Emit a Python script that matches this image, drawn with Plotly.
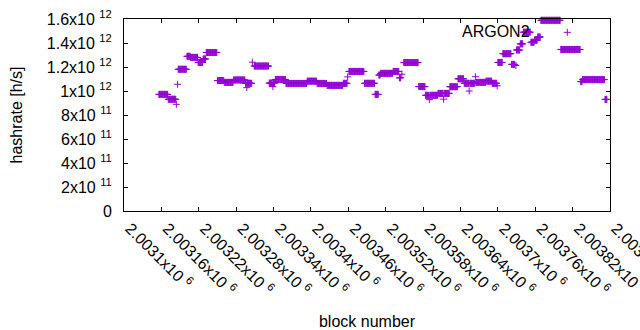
import plotly.graph_objects as go

# ---- data (runs of equal hashrate per block) ----
seg_start = [2003156, 2003171, 2003187, 2003201, 2003207, 2003219, 2003227, 2003232,
             2003250, 2003261, 2003276, 2003295, 2003309, 2003333, 2003343, 2003360,
             2003394, 2003410, 2003426, 2003452, 2003461, 2003486, 2003503, 2003509,
             2003512, 2003532, 2003542, 2003549, 2003573, 2003584, 2003604, 2003623,
             2003636, 2003646, 2003655, 2003665, 2003681, 2003691, 2003700, 2003708,
             2003722, 2003730, 2003736, 2003741, 2003753, 2003759, 2003764, 2003769,
             2003801, 2003833, 2003836, 2003872]
seg_end = [2003170, 2003183, 2003200, 2003206, 2003218, 2003226, 2003231, 2003249,
           2003260, 2003275, 2003294, 2003305, 2003332, 2003342, 2003359, 2003393,
           2003409, 2003425, 2003451, 2003458, 2003485, 2003502, 2003508, 2003511,
           2003531, 2003541, 2003544, 2003572, 2003583, 2003603, 2003622, 2003635,
           2003645, 2003653, 2003663, 2003680, 2003690, 2003698, 2003707, 2003721,
           2003727, 2003735, 2003740, 2003752, 2003758, 2003763, 2003768, 2003800,
           2003832, 2003835, 2003871, 2003875]
seg_value = [0.972e12, 0.931e12, 1.181e12, 1.289e12, 1.280e12, 1.238e12, 1.267e12, 1.321e12,
             1.087e12, 1.072e12, 1.092e12, 1.064e12, 1.208e12, 1.066e12, 1.096e12, 1.063e12,
             1.082e12, 1.063e12, 1.047e12, 1.064e12, 1.163e12, 1.064e12, 0.972e12, 1.133e12,
             1.147e12, 1.163e12, 1.110e12, 1.237e12, 1.037e12, 0.964e12, 0.980e12, 1.036e12,
             1.102e12, 1.064e12, 1.064e12, 1.072e12, 1.082e12, 1.064e12, 1.238e12, 1.311e12,
             1.222e12, 1.342e12, 1.393e12, 1.490e12, 1.406e12, 1.423e12, 1.450e12, 1.589e12,
             1.346e12, 1.078e12, 1.095e12, 0.930e12]

single_block = [2003184, 2003186, 2003297, 2003306, 2003339, 2003459, 2003546,
                2003590, 2003613, 2003654, 2003664, 2003699, 2003729]
single_value = [0.889e12, 1.056e12, 1.028e12, 1.240e12, 1.036e12, 1.118e12, 1.140e12,
                0.928e12, 0.932e12, 1.000e12, 1.119e12, 1.044e12, 1.213e12]

x_tickvals = [2003100, 2003160, 2003220, 2003280, 2003340, 2003400, 2003460,
              2003520, 2003580, 2003640, 2003700, 2003760, 2003820, 2003880]
x_ticktext = ["2.0031x10 <sup>6</sup>", "2.00316x10 <sup>6</sup>", "2.00322x10 <sup>6</sup>",
              "2.00328x10 <sup>6</sup>", "2.00334x10 <sup>6</sup>", "2.0034x10 <sup>6</sup>",
              "2.00346x10 <sup>6</sup>", "2.00352x10 <sup>6</sup>", "2.00358x10 <sup>6</sup>",
              "2.00364x10 <sup>6</sup>", "2.0037x10 <sup>6</sup>", "2.00376x10 <sup>6</sup>",
              "2.00382x10 <sup>6</sup>", "2.00388x10 <sup>6</sup>"]
y_tickvals = [0, 2e11, 4e11, 6e11, 8e11, 1e12, 1.2e12, 1.4e12, 1.6e12]
y_ticktext = ["0", "2x10 <sup>11</sup>", "4x10 <sup>11</sup>", "6x10 <sup>11</sup>",
              "8x10 <sup>11</sup>", "1x10 <sup>12</sup>", "1.2x10 <sup>12</sup>",
              "1.4x10 <sup>12</sup>", "1.6x10 <sup>12</sup>"]

# ---- expand runs into per-block points ----
points = {}
for s, e, v in zip(seg_start, seg_end, seg_value):
    for b in range(s, e + 1):
        points[b] = v
for b, v in zip(single_block, single_value):
    points[b] = v
blocks = sorted(points)
rates = [points[b] for b in blocks]

COLOR = "#9400d3"
FONT = "Liberation Sans, Arial, sans-serif"

fig = go.Figure()
fig.add_trace(go.Scatter(
    x=blocks, y=rates, mode="markers", name=" ",
    marker=dict(symbol="cross-thin", size=5, color=COLOR,
                line=dict(width=1, color=COLOR)),
    cliponaxis=False, showlegend=True,
))

axis_common = dict(
    showline=True, linecolor="black", linewidth=1, mirror="allticks",
    ticks="inside", ticklen=4, tickcolor="black", tickwidth=1,
    showgrid=False, zeroline=False, automargin=False,
    ticklabeloverflow="allow",
    tickfont=dict(family=FONT, size=16, color="black"),
)

fig.update_layout(
    width=640, height=330,
    margin=dict(l=124, r=30, t=19, b=119),
    paper_bgcolor="white", plot_bgcolor="white",
    font=dict(family=FONT, size=16, color="black"),
    xaxis=dict(range=[2003100, 2003880], tickmode="array", tickvals=x_tickvals,
               ticktext=x_ticktext, tickangle=45, ticklabelshift=6,
               ticklabelstandoff=1,
               title=dict(text="block number", standoff=29,
                          font=dict(family=FONT, size=16, color="black")),
               **axis_common),
    yaxis=dict(range=[0, 1.6e12], tickmode="array", tickvals=y_tickvals,
               ticktext=y_ticktext, ticklabelstandoff=8,
               title=dict(text="hashrate [h/s]", standoff=20,
                          font=dict(family=FONT, size=16, color="black")),
               **axis_common),
    legend=dict(x=0.871, y=0.93, xanchor="left", yanchor="middle",
                bgcolor="rgba(0,0,0,0)", borderwidth=0,
                font=dict(family=FONT, size=16), itemwidth=30),
    annotations=[dict(text="ARGON2", xref="paper", yref="paper",
                      x=(532 - 124) / 486, y=(211 - 31.7) / 192,
                      xanchor="right", yanchor="middle", showarrow=False,
                      font=dict(family=FONT, size=16, color="black"))],
)

fig.write_html("out.html", config={"displayModeBar": False},
               post_script="document.body.style.margin='0';")
